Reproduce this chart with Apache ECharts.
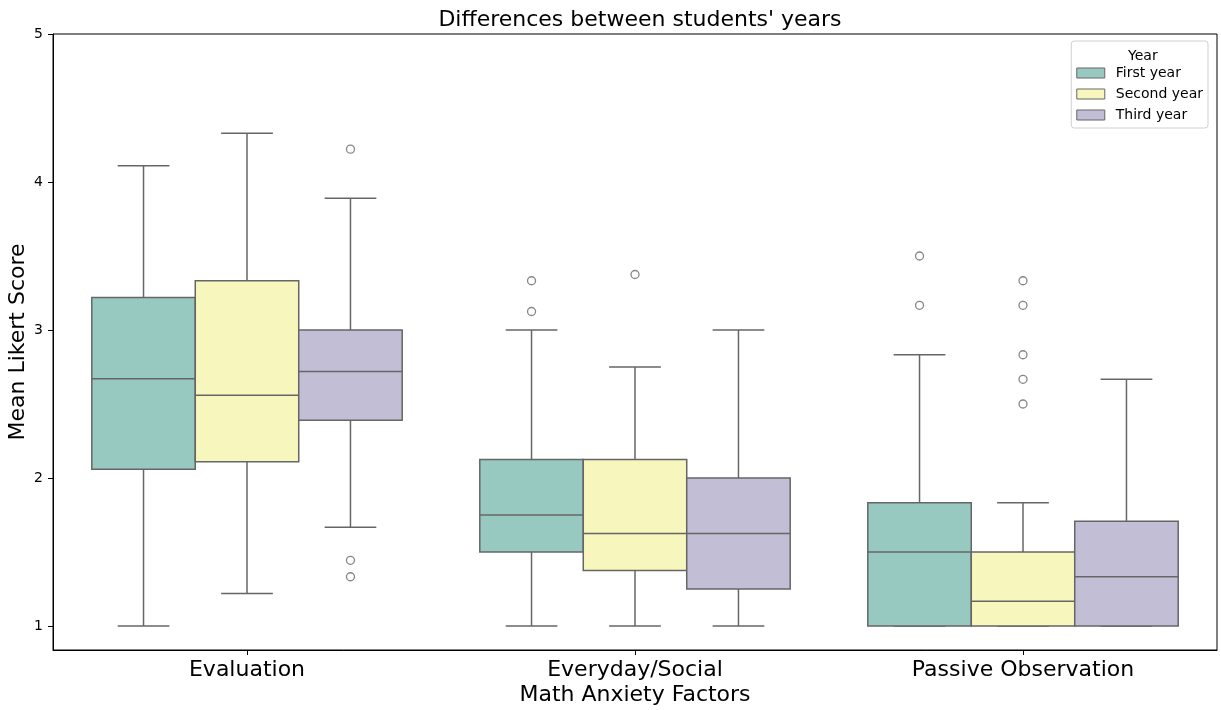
<!DOCTYPE html>
<html>
<head>
<meta charset="utf-8" />
<title>Differences between students' years</title>
<script src="https://cdn.jsdelivr.net/npm/echarts@6/dist/echarts.min.js"></script>
<style>
  html, body { margin: 0; padding: 0; background: #fff; }
  #main { width: 1221px; height: 710px; }
</style>
</head>
<body>
<div id="main"></div>
<script>
// ---- data ----
var factors = ['Evaluation', 'Everyday/Social', 'Passive Observation'];
var years = ['First year', 'Second year', 'Third year'];
var yearColors = ['#97c9c0', '#f6f6bd', '#c2bed6'];
var yTicks = [1, 2, 3, 4, 5];

// [lower whisker, Q1, median, Q3, upper whisker] per factor
var firstYearBox = [
  [1.0, 2.06, 2.67, 3.22, 4.11],
  [1.0, 1.5, 1.75, 2.125, 3.0],
  [1.0, 1.0, 1.5, 1.833, 2.833]
];
var secondYearBox = [
  [1.22, 2.11, 2.56, 3.333, 4.33],
  [1.0, 1.375, 1.625, 2.125, 2.75],
  [1.0, 1.0, 1.167, 1.5, 1.833]
];
var thirdYearBox = [
  [1.667, 2.39, 2.72, 3.0, 3.89],
  [1.0, 1.25, 1.625, 2.0, 3.0],
  [1.0, 1.0, 1.333, 1.708, 2.667]
];

// [factor index, value]
var firstYearOutliers = [[1, 3.333], [1, 3.125], [2, 3.5], [2, 3.167]];
var secondYearOutliers = [[1, 3.375], [2, 3.333], [2, 3.167], [2, 2.833], [2, 2.667], [2, 2.5]];
var thirdYearOutliers = [[0, 4.222], [0, 1.444], [0, 1.333]];

var boxes = [firstYearBox, secondYearBox, thirdYearBox];
var outliers = [firstYearOutliers, secondYearOutliers, thirdYearOutliers];

// ---- layout of the dodged boxes (in category units) ----
var boxW = 0.8 / years.length;
var lineColor = '#666666';

function offsetOf(i) {
  return (i - (years.length - 1) / 2) * boxW;
}

function makeRender(i) {
  var off = offsetOf(i);
  var hw = boxW / 2;
  return function (params, api) {
    var c = api.value(0) + off;
    var lo = api.value(1), q1 = api.value(2), med = api.value(3),
        q3 = api.value(4), hi = api.value(5);
    var tl = api.coord([c - hw, q3]);
    var br = api.coord([c + hw, q1]);
    var pHi = api.coord([c, hi]);
    var pLo = api.coord([c, lo]);
    var pQ3 = api.coord([c, q3]);
    var pQ1 = api.coord([c, q1]);
    var capL = api.coord([c - hw / 2, hi])[0];
    var capR = api.coord([c + hw / 2, hi])[0];
    var mL = api.coord([c - hw, med]);
    var mR = api.coord([c + hw, med]);
    var ls = { stroke: lineColor, lineWidth: 1.5 };
    return {
      type: 'group',
      children: [
        { type: 'line', shape: { x1: pQ3[0], y1: pQ3[1], x2: pHi[0], y2: pHi[1] }, style: ls },
        { type: 'line', shape: { x1: pQ1[0], y1: pQ1[1], x2: pLo[0], y2: pLo[1] }, style: ls },
        { type: 'line', shape: { x1: capL, y1: pHi[1], x2: capR, y2: pHi[1] }, style: ls },
        { type: 'line', shape: { x1: capL, y1: pLo[1], x2: capR, y2: pLo[1] }, style: ls },
        { type: 'rect', shape: { x: tl[0], y: tl[1], width: br[0] - tl[0], height: br[1] - tl[1] },
          style: { fill: yearColors[i], stroke: lineColor, lineWidth: 1.5 } },
        { type: 'line', shape: { x1: mL[0], y1: mL[1], x2: mR[0], y2: mR[1] }, style: ls }
      ]
    };
  };
}

var series = [];
years.forEach(function (name, i) {
  series.push({
    name: name,
    type: 'custom',
    xAxisIndex: 1,
    renderItem: makeRender(i),
    itemStyle: { color: yearColors[i], borderColor: lineColor, borderWidth: 1 },
    encode: { x: 0, y: [1, 2, 3, 4, 5] },
    data: boxes[i].map(function (s, k) { return [k].concat(s); }),
    z: 2
  });
});
years.forEach(function (name, i) {
  var off = offsetOf(i);
  series.push({
    name: name + ' outliers',
    type: 'scatter',
    xAxisIndex: 1,
    symbol: 'circle',
    symbolSize: 8,
    itemStyle: { color: 'rgba(0,0,0,0)', borderColor: lineColor, borderWidth: 1.3 },
    data: outliers[i].map(function (p) { return [p[0] + off, p[1]]; }),
    z: 3
  });
});

var font = 'DejaVu Sans';
var chart = echarts.init(document.getElementById('main'));
chart.setOption({
  animation: false,
  textStyle: { fontFamily: font },
  title: [
    {
      text: "Differences between students' years",
      left: 635,
      textAlign: 'center',
      top: 4,
      textStyle: { fontFamily: font, fontSize: 22, fontWeight: 'normal', color: '#000' }
    },
    {
      text: 'Year',
      left: 1123,
      top: 44,
      textStyle: { fontFamily: font, fontSize: 14, fontWeight: 'normal', color: '#000' }
    }
  ],
  legend: {
    data: years,
    orient: 'vertical',
    right: 13,
    top: 41,
    icon: 'rect',
    itemWidth: 28,
    itemHeight: 10,
    itemGap: 5,
    padding: [24, 5, 5, 5],
    backgroundColor: '#fff',
    borderColor: '#d0d0d0',
    borderWidth: 1,
    borderRadius: 3,
    itemStyle: { borderColor: lineColor, borderWidth: 1 },
    textStyle: { fontFamily: font, fontSize: 14, lineHeight: 16, color: '#000', padding: [0, 0, 0, 6] }
  },
  grid: {
    left: 53, right: 4, top: 34, bottom: 60,
    outerBoundsMode: 'none',
    containLabel: false,
    show: true, borderColor: '#000', borderWidth: 1, backgroundColor: 'transparent'
  },
  xAxis: [
    {
      type: 'category',
      data: factors,
      name: 'Math Anxiety Factors',
      nameLocation: 'middle',
      nameGap: 34,
      nameMoveOverlap: false,
      nameTextStyle: { fontFamily: font, fontSize: 22, color: '#000' },
      axisLine: { show: true, lineStyle: { color: '#000' } },
      axisTick: { show: true, alignWithLabel: true, length: 5, lineStyle: { color: '#000' } },
      axisLabel: { fontFamily: font, fontSize: 22, color: '#000', margin: 9 },
      splitLine: { show: false }
    },
    {
      type: 'value',
      min: -0.5,
      max: 2.5,
      show: false
    }
  ],
  yAxis: {
    type: 'value',
    min: 0.838,
    max: 5,
    name: 'Mean Likert Score',
    nameLocation: 'middle',
    nameGap: 24,
    nameMoveOverlap: false,
    nameTextStyle: { fontFamily: font, fontSize: 22, color: '#000' },
    axisLine: { show: true, onZero: false, lineStyle: { color: '#000' } },
    axisTick: { show: true, length: 5, customValues: yTicks, lineStyle: { color: '#000' } },
    axisLabel: { fontFamily: font, fontSize: 14, color: '#000', margin: 10, customValues: yTicks },
    splitLine: { show: false }
  },
  series: series
});
</script>
</body>
</html>
